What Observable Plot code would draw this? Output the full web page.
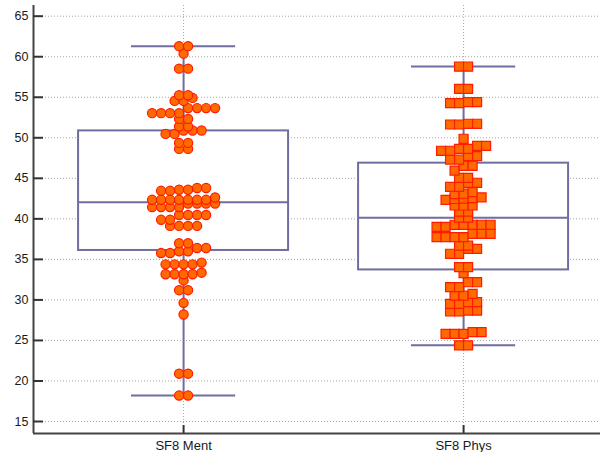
<!DOCTYPE html>
<html>
<head>
<meta charset="utf-8">
<script src="https://cdn.jsdelivr.net/npm/d3@7"></script>
<script src="https://cdn.jsdelivr.net/npm/@observablehq/plot@0.6"></script>
<style>
  body { margin: 0; background: #fff; }
  #chart svg { display: block; }
</style>
</head>
<body>
<div id="chart"></div>
<script>
// SF8 summary scores: mental and physical component
const categories = ["SF8 Ment", "SF8 Phys"];

const mentScores = [
  18.2, 18.2, 20.9, 20.9, 28.2, 29.64, 31.2, 31.2, 32.41,
  33.16, 33.16, 33.16, 33.16, 33.36,
  34.39, 34.39, 34.39, 34.39, 34.6,
  35.78, 35.78, 36.0, 36.0, 36.4, 36.4,
  36.99, 36.99,
  39.13, 39.13, 39.13, 39.13,
  39.88, 39.88, 40.47, 40.47, 40.47, 40.47,
  41.45, 41.45, 41.45, 41.45, 41.9, 41.9, 41.9, 41.9,
  42.35, 42.35, 42.35, 42.35, 42.35, 42.35, 42.35, 42.64,
  43.46, 43.46, 43.59, 43.59, 43.8, 43.8,
  48.63, 48.63, 49.37, 49.37,
  50.48, 50.48, 50.9, 50.9, 50.9,
  51.39, 51.39, 52.33, 52.33,
  53.04, 53.04, 53.04, 53.04, 53.66, 53.66, 53.66, 53.66,
  54.55, 54.55, 54.92, 55.25, 55.25,
  58.53, 58.53, 60.38, 61.3, 61.3
];

const physScores = [
  24.4, 24.4, 25.82, 25.82, 25.82, 26.02, 26.02,
  28.57, 28.57, 28.69, 28.69,
  29.52, 29.52, 29.72, 29.72,
  30.54, 30.54, 30.75,
  31.57, 31.57, 32.18, 32.18,
  33.3, 34.04, 34.04,
  35.69, 35.69, 36.3, 36.3, 36.71, 36.71,
  37.74, 37.74, 37.74, 37.74, 38.16, 38.16, 38.16,
  39.02, 39.02, 39.27, 39.27, 39.27, 39.27, 39.27,
  40.15, 40.15, 40.9, 40.9,
  41.65, 41.65, 41.65,
  42.35, 42.45, 42.5, 42.55, 42.65,
  43.05, 43.1, 43.3,
  43.95, 43.95, 44.45, 44.45,
  45.06, 45.06, 45.95, 46.55, 46.55,
  47.32, 47.32, 47.73, 47.73,
  48.4, 48.4, 48.64, 48.64, 49.0, 49.0, 49.88,
  51.64, 51.64, 51.73, 51.73,
  54.27, 54.27, 54.4, 54.4,
  56.04, 56.04, 58.79, 58.79
];

// box-and-whisker summaries, one entry per category
const boxMin    = [18.2, 24.4];
const boxQ1     = [36.1, 33.7];
const boxMedian = [42.05, 40.13];
const boxQ3     = [50.85, 46.87];
const boxMax    = [61.3, 58.79];

const yTicks = [15, 20, 25, 30, 35, 40, 45, 50, 55, 60, 65];
const yDomain = [13.52, 66.32];
const xDomain = [-0.536, 1.489];

// Layout: values close together share a row, sorted left to right and centred
const rowSpan = 0.66;          // score span of one row
const dotStep = 9 / 280;       // horizontal spacing between neighbours (x units)
function rowLayout(values, index) {
  const sorted = values.slice().sort((a, b) => a - b);
  const rows = [];
  for (const v of sorted) {
    const row = rows[rows.length - 1];
    if (row && v - row[0] < rowSpan) row.push(v);
    else rows.push([v]);
  }
  return rows.flatMap(row =>
    row.map((v, k) => ({category: index, value: v, x: index + (k - (row.length - 1) / 2) * dotStep}))
  );
}

const mentPoints = rowLayout(mentScores, 0);
const physPoints = rowLayout(physScores, 1);

const stats = categories.map((c, i) => ({
  i, name: c, min: boxMin[i], q1: boxQ1[i], median: boxMedian[i], q3: boxQ3[i], max: boxMax[i]
}));

const boxHalf = 0.375;
const capHalf = 0.186;
const boxColor = "#6e6ea0";
const axisColor = "#444";
const gridStyle = {stroke: "#a6a6a6", strokeOpacity: 1, strokeDasharray: "1,2"};
const boxLine = {stroke: boxColor, strokeWidth: 2};
const dotStyle = {fill: "#ff6a00", stroke: "#ff1a00", strokeWidth: 1.2};

const chart = Plot.plot({
  width: 602,
  height: 452,
  marginTop: 5,
  marginBottom: 19,
  marginLeft: 33,
  marginRight: 2,
  style: {fontFamily: "'Liberation Sans', Arial, sans-serif", background: "#fff", color: "#1a1a1a"},
  x: {type: "linear", domain: xDomain, label: null},
  y: {domain: yDomain, label: null},
  marks: [
    Plot.gridY(yTicks, gridStyle),
    Plot.gridX([0, 1], gridStyle),
    // whiskers and caps
    Plot.ruleX(stats, {x: "i", y1: "q3", y2: "max", ...boxLine}),
    Plot.ruleX(stats, {x: "i", y1: "min", y2: "q1", ...boxLine}),
    Plot.ruleY(stats, {y: "max", x1: d => d.i - capHalf, x2: d => d.i + capHalf, ...boxLine}),
    Plot.ruleY(stats, {y: "min", x1: d => d.i - capHalf, x2: d => d.i + capHalf, ...boxLine}),
    // boxes and medians
    Plot.rect(stats, {x1: d => d.i - boxHalf, x2: d => d.i + boxHalf, y1: "q1", y2: "q3", fill: "#fff", ...boxLine}),
    Plot.ruleY(stats, {y: "median", x1: d => d.i - boxHalf, x2: d => d.i + boxHalf, ...boxLine}),
    // individual observations
    Plot.dot(mentPoints, {x: "x", y: "value", r: 4.6, ...dotStyle}),
    Plot.dot(physPoints, {x: "x", y: "value", r: 5.1, symbol: "square", ...dotStyle}),
    // axis lines and inward ticks
    Plot.ruleX([xDomain[0]], {stroke: axisColor, strokeWidth: 2}),
    Plot.ruleY([yDomain[0]], {stroke: axisColor, strokeWidth: 2}),
    Plot.tickY(yTicks, {y: d => d, insetRight: 557, stroke: "#333", strokeWidth: 2}),
    Plot.tickX([0, 1], {x: d => d, insetTop: 420, stroke: "#333", strokeWidth: 2}),
    Plot.axisY(yTicks, {tickSize: 0, tickPadding: 5, fontSize: 12.5, label: null}),
    Plot.axisX([0, 1], {tickSize: 0, tickPadding: 7, fontSize: 13, tickFormat: i => categories[i], label: null})
  ]
});

document.getElementById("chart").append(chart);
</script>
</body>
</html>
